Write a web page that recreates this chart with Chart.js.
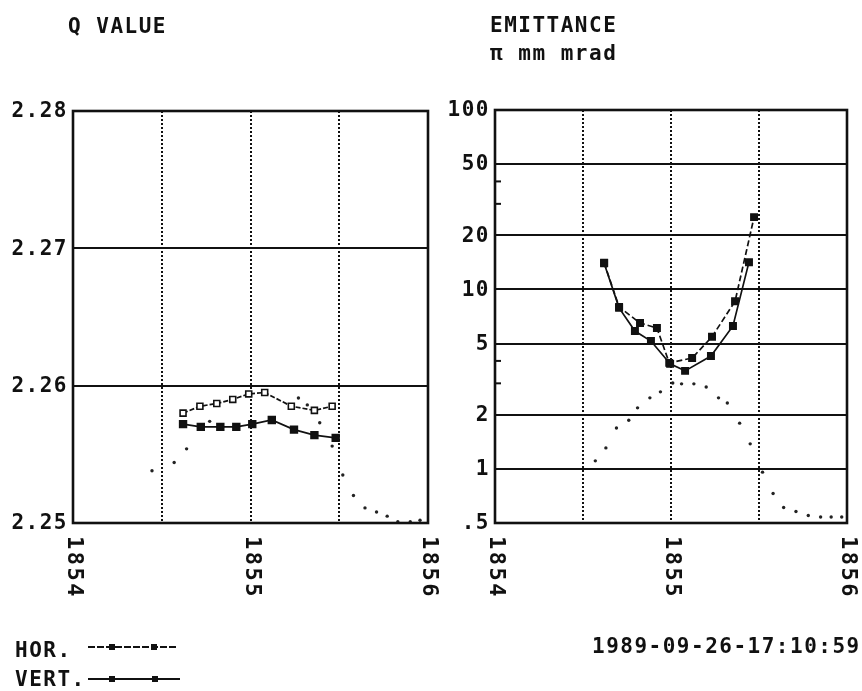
<!DOCTYPE html>
<html>
<head>
<meta charset="utf-8">
<script src="https://cdn.jsdelivr.net/npm/chart.js"></script>
<style>
  body { margin: 0; background: #fff; }
  #wrap { position: relative; width: 862px; height: 691px; }
  canvas { position: absolute; top: 0; }
  #cq { left: 0; }
  #ce { left: 445px; }
</style>
</head>
<body>
<div id="wrap">
  <canvas id="cq" width="445" height="691"></canvas>
  <canvas id="ce" width="417" height="691"></canvas>
</div>

<script>
  // Q value panel
  var qHorX = [1854.62, 1854.715, 1854.81, 1854.90, 1854.99, 1855.08, 1855.23, 1855.36, 1855.46];
  var qHorY = [2.2580, 2.2585, 2.2587, 2.2590, 2.2594, 2.2595, 2.2585, 2.2582, 2.2585];
  var qVertX = [1854.62, 1854.72, 1854.83, 1854.92, 1855.01, 1855.12, 1855.245, 1855.36, 1855.48];
  var qVertY = [2.2572, 2.2570, 2.2570, 2.2570, 2.2572, 2.2575, 2.2568, 2.2564, 2.2562];
  var qDotX = [1854.445, 1854.57, 1854.64, 1854.77, 1855.27, 1855.32, 1855.39, 1855.46, 1855.52, 1855.58, 1855.645, 1855.71, 1855.77, 1855.83, 1855.90, 1855.955];
  var qDotY = [2.2538, 2.2544, 2.2554, 2.2574, 2.2591, 2.2586, 2.2573, 2.2556, 2.2535, 2.2520, 2.2511, 2.2508, 2.2505, 2.2501, 2.2501, 2.2502];
  var qTicks = [2.25, 2.26, 2.27, 2.28];
  var qTickLabels = ["2.25", "2.26", "2.27", "2.28"];

  // emittance panel
  var eHorX = [1854.62, 1854.705, 1854.824, 1854.92, 1854.99, 1855.12, 1855.233, 1855.364, 1855.472];
  var eHorY = [14.1, 8.0, 6.5, 6.1, 3.9, 4.15, 5.45, 8.6, 25.3];
  var eVertX = [1854.62, 1854.705, 1854.795, 1854.886, 1854.995, 1855.08, 1855.227, 1855.352, 1855.443];
  var eVertY = [14.0, 7.9, 5.87, 5.16, 3.85, 3.52, 4.26, 6.26, 14.2];
  var eDotX = [1854.57, 1854.63, 1854.69, 1854.76, 1854.81, 1854.88, 1854.94, 1855.01, 1855.06, 1855.13, 1855.20, 1855.27, 1855.32, 1855.39, 1855.45, 1855.52, 1855.58, 1855.64, 1855.71, 1855.78, 1855.85, 1855.91, 1855.97];
  var eDotY = [1.11, 1.31, 1.69, 1.87, 2.19, 2.49, 2.69, 3.01, 2.98, 2.98, 2.86, 2.49, 2.33, 1.80, 1.38, 0.96, 0.73, 0.61, 0.58, 0.55, 0.54, 0.54, 0.54];
  var eTicks = [0.5, 1, 2, 5, 10, 20, 50, 100];
  var eTickLabels = [".5", "1", "2", "5", "10", "20", "50", "100"];
  var eMinorTicks = [3, 4, 30, 40];

  var xTicks = [1854, 1855, 1856];
  var xTickLabels = ["1854", "1855", "1856"];

  var ink = "#111";
  var txtFont = 'bold 21px "DejaVu Sans Mono"';

  function pts(xs, ys) {
    return xs.map(function (x, i) {
      return { x: x, y: ys[i] };
    });
  }

  function drawText(ctx, s, x, y, align, font, spacing) {
    ctx.save();
    ctx.font = font || txtFont;
    ctx.letterSpacing = (spacing == null ? 1.5 : spacing) + "px";
    ctx.fillStyle = ink;
    ctx.textAlign = align || "left";
    ctx.textBaseline = "alphabetic";
    ctx.fillText(s, x, y);
    ctx.restore();
  }

  // frame + tick labels, drawn from the chart's own scales
  var plotter = {
    id: "plotter",
    afterDatasetsDraw: function (chart, args, opts) {
      var ctx = chart.ctx;
      var a = chart.chartArea;
      var xs = chart.scales.x;
      var ys = chart.scales.y;

      ctx.save();
      ctx.strokeStyle = ink;
      ctx.lineWidth = 2.6;
      ctx.strokeRect(a.left, a.top, a.right - a.left, a.bottom - a.top);

      (opts.minor || []).forEach(function (v) {
        var py = ys.getPixelForValue(v);
        ctx.lineWidth = 2;
        ctx.beginPath();
        ctx.moveTo(a.left, py);
        ctx.lineTo(a.left + 6, py);
        ctx.stroke();
      });

      ctx.font = txtFont;
      ctx.letterSpacing = "1.5px";
      ctx.fillStyle = ink;
      ctx.textAlign = "right";
      ctx.textBaseline = "middle";
      opts.yTicks.forEach(function (v, i) {
        ctx.fillText(opts.yLabels[i], a.left - 5, ys.getPixelForValue(v) + 1);
      });

      ctx.font = 'bold 22px "DejaVu Sans Mono"';
      ctx.letterSpacing = "2.5px";
      ctx.textAlign = "left";
      xTicks.forEach(function (v, i) {
        ctx.save();
        ctx.translate(xs.getPixelForValue(v) + 1, a.bottom + 13);
        ctx.rotate(Math.PI / 2);
        ctx.fillText(xTickLabels[i], 0, 0);
        ctx.restore();
      });
      ctx.restore();

      (opts.texts || []).forEach(function (t) {
        drawText(ctx, t[0], t[1], t[2], t[3]);
      });

      (opts.legend || []).forEach(function (l) {
        ctx.save();
        ctx.strokeStyle = ink;
        ctx.fillStyle = ink;
        ctx.lineWidth = 1.8;
        ctx.setLineDash(l.dash);
        ctx.beginPath();
        ctx.moveTo(l.x0, l.y);
        ctx.lineTo(l.x1, l.y);
        ctx.stroke();
        l.marks.forEach(function (mx) {
          ctx.fillRect(mx - 3, l.y - 3, 6, 6);
        });
        ctx.restore();
      });
    },
  };

  function scaleX() {
    return {
      type: "linear",
      min: 1854,
      max: 1856,
      ticks: { display: false, stepSize: 0.5 },
      grid: { color: ink, lineWidth: 2, drawTicks: false },
      border: { display: false, dash: [2, 2] },
      afterFit: function (s) {
        s.height = 168;
      },
    };
  }

  function lineSet(data, dash, fill, r) {
    return {
      data: data,
      showLine: true,
      borderColor: ink,
      borderWidth: 1.7,
      borderDash: dash,
      pointStyle: "rect",
      pointRadius: r,
      pointBorderWidth: 1.6,
      pointBorderColor: ink,
      pointBackgroundColor: fill,
    };
  }

  function dotSet(data) {
    return {
      data: data,
      showLine: false,
      pointStyle: "circle",
      pointRadius: 1.7,
      pointBorderWidth: 0,
      pointBackgroundColor: "#222",
    };
  }

  new Chart(document.getElementById("cq"), {
    type: "scatter",
    data: {
      datasets: [
        lineSet(pts(qHorX, qHorY), [5, 2], "#fff", 4.2),
        lineSet(pts(qVertX, qVertY), [], ink, 4.8),
        dotSet(pts(qDotX, qDotY)),
      ],
    },
    options: {
      responsive: false,
      devicePixelRatio: 1,
      animation: false,
      events: [],
      layout: { padding: { top: 111, right: 17, left: 0, bottom: 0 } },
      scales: {
        x: scaleX(),
        y: {
          type: "linear",
          min: 2.25,
          max: 2.28,
          ticks: { display: false, stepSize: 0.01 },
          grid: { color: ink, lineWidth: 2, drawTicks: false },
          border: { display: false },
          afterFit: function (s) {
            s.width = 73;
          },
        },
      },
      plugins: {
        legend: { display: false },
        tooltip: { enabled: false },
        plotter: {
          yTicks: qTicks,
          yLabels: qTickLabels,
          texts: [
            ["Q VALUE", 68, 33, "left"],
            ["HOR.", 15, 657, "left"],
            ["VERT.", 15, 686, "left"],
          ],
          legend: [
            { x0: 88, x1: 178, y: 647, dash: [7, 2], marks: [112, 154] },
            { x0: 88, x1: 180, y: 679, dash: [], marks: [112, 155] },
          ],
        },
      },
    },
    plugins: [plotter],
  });

  new Chart(document.getElementById("ce"), {
    type: "scatter",
    data: {
      datasets: [
        lineSet(pts(eHorX, eHorY), [6, 3], ink, 4.5),
        lineSet(pts(eVertX, eVertY), [], ink, 4.5),
        dotSet(pts(eDotX, eDotY)),
      ],
    },
    options: {
      responsive: false,
      devicePixelRatio: 1,
      animation: false,
      events: [],
      layout: { padding: { top: 110, right: 15, left: 0, bottom: 0 } },
      scales: {
        x: scaleX(),
        y: {
          type: "logarithmic",
          min: 0.5,
          max: 100,
          ticks: { display: false },
          afterBuildTicks: function (s) {
            s.ticks = eTicks.map(function (v) {
              return { value: v };
            });
          },
          grid: { color: ink, lineWidth: 2, drawTicks: false },
          border: { display: false },
          afterFit: function (s) {
            s.width = 50;
          },
        },
      },
      plugins: {
        legend: { display: false },
        tooltip: { enabled: false },
        plotter: {
          yTicks: eTicks,
          yLabels: eTickLabels,
          minor: eMinorTicks,
          texts: [
            ["EMITTANCE", 45, 32, "left"],
            ["\u03c0 mm mrad", 45, 60, "left"],
            ["1989-09-26-17:10:59", 147, 653, "left"],
          ],
        },
      },
    },
    plugins: [plotter],
  });
</script>
</body>
</html>
